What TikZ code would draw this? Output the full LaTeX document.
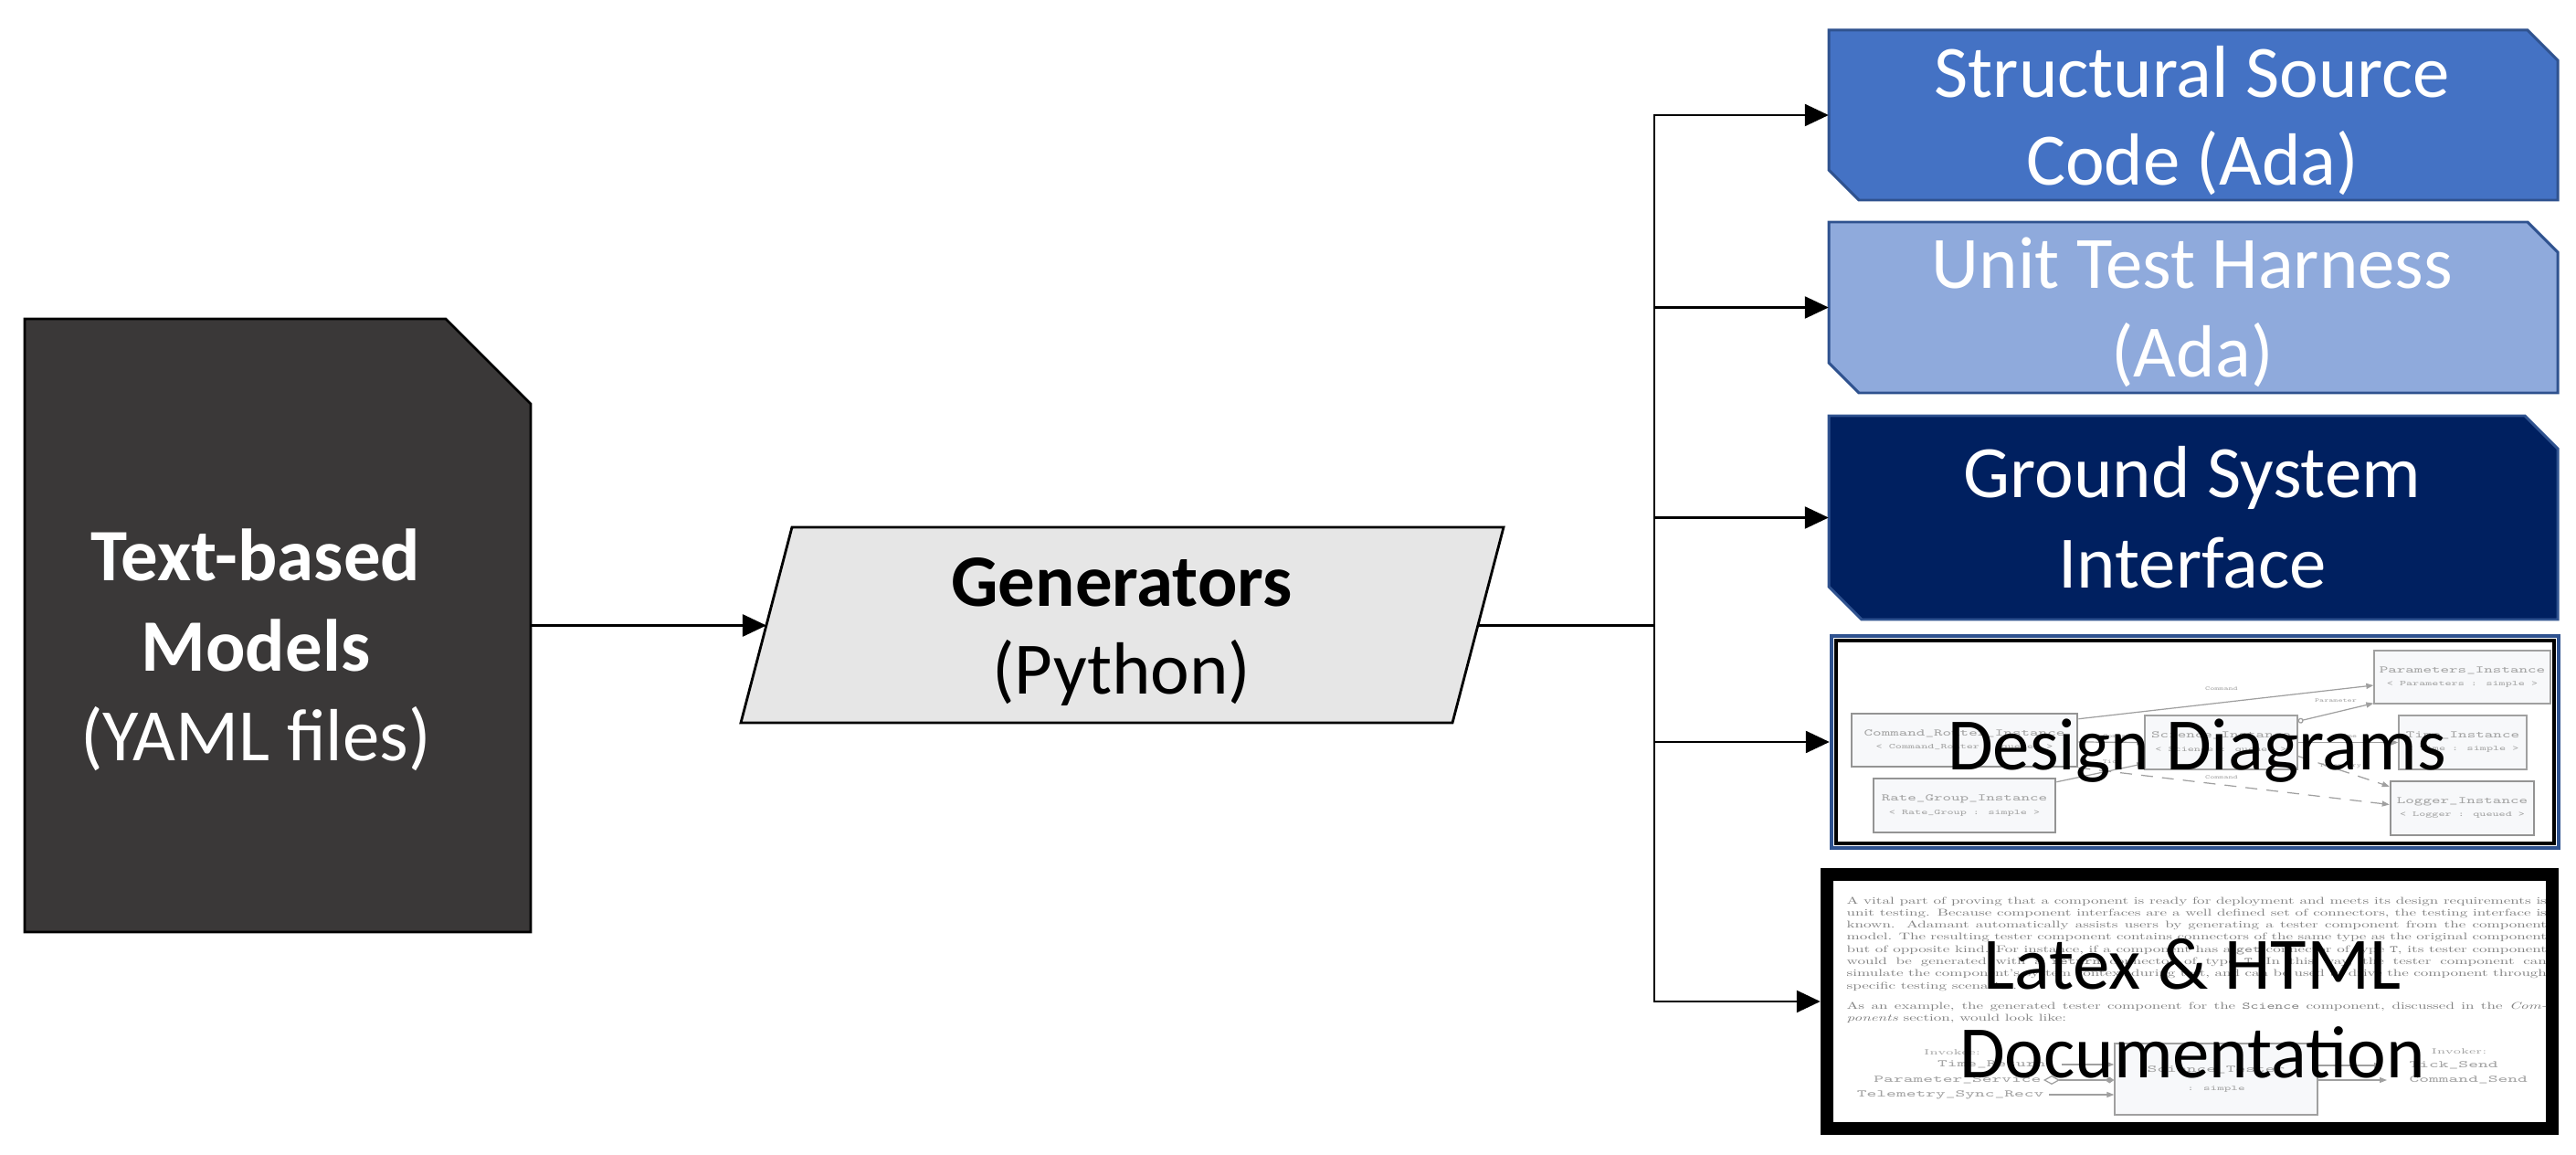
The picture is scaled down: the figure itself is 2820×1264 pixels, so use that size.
\documentclass[tikz,border=0pt]{standalone}
\usepackage{fontspec}
\usepackage{graphicx}
\newfontfamily\calib{Carlito}
\usetikzlibrary{arrows.meta,calc}
\definecolor{boxA}{HTML}{4472C4}
\definecolor{boxB}{HTML}{8FAADC}
\definecolor{boxC}{HTML}{002060}
\definecolor{boxline}{HTML}{2F528F}
\definecolor{srcfill}{HTML}{3A3838}
\definecolor{genfill}{HTML}{E6E6E6}
\definecolor{dline}{HTML}{A0A0A0}
\definecolor{dtext}{HTML}{A3A3A3}
\definecolor{dfill}{HTML}{F7F8FA}
\definecolor{ptext}{HTML}{808080}
\newcommand\xs[2]{\scalebox{#1}[1]{#2}}
\newcommand\bigf{\calib\fontsize{23}{27.6}\selectfont}
\newcommand\snipbox[6]{\path[#6] (#1,#2) -- ({#3-#5},#2) -- (#3,{#2+#5}) -- (#3,#4) -- ({#1+#5},#4) -- (#1,{#4-#5}) -- cycle;}
\newcommand\pline[1]{\makebox[\linewidth][s]{#1}\par}
\tikzset{
  big/.style={font=\bigf, inner sep=0pt, anchor=base},
  bigb/.style={font=\bigf\bfseries, inner sep=0pt, anchor=base},
  conn/.style={line width=0.7pt, -{Triangle[length=0.26cm,width=0.24cm]}},
  hold/.style={inner sep=0pt, outer sep=0pt, draw=none},
  dbox/.style={draw=dline, line width=0.35pt, fill=dfill, inner sep=0pt, align=center, text=dtext, font=\ttfamily\fontsize{3.1}{4}\selectfont},
  dthick/.style={dbox, draw=black!42, line width=0.7pt},
  dedge/.style={draw=dline, line width=0.35pt, -{Triangle[length=0.08cm,width=0.06cm]}},
  ddash/.style={dedge, dash pattern=on 0.13cm off 0.1cm},
  dlab/.style={text=dtext, inner sep=0pt, font=\ttfamily\fontsize{1.7}{2}\selectfont},
  tlab/.style={text=dtext, inner sep=0pt, font=\ttfamily\fontsize{3.13}{4}\selectfont},
  slab/.style={text=dtext, inner sep=0pt, font=\rmfamily\fontsize{2.4}{3}\selectfont}
}
\begin{document}
\begin{tikzpicture}[x=0.01cm,y=-0.01cm]
\useasboundingbox (0,0) rectangle (2820,1264);

% ---------- source (YAML) ----------
\path[fill=srcfill, draw=black, line width=0.8pt] (27,349) -- (488,349) -- (581,442) -- (581,1020) -- (27,1020) -- cycle;
\node[hold, minimum width=5.54cm, minimum height=6.71cm] (src) at (304,684.5) {};
\node[bigb, text=white] (srcA) at (280,636) {Text-based};
\node[bigb, text=white] (srcB) at (280,735) {Models};
\node[big, text=white] (srcC) at (280,833) {(YAML files)};

% ---------- generators ----------
\path[fill=genfill, draw=black, line width=0.8pt] (867,577) -- (1646,577) -- (1590,791) -- (811,791) -- cycle;
\node[hold, minimum width=7.79cm, minimum height=2.14cm] (gen) at (1228.5,684) {};
\coordinate (genW) at (839,684.5);
\coordinate (genE) at (1618,684.5);
\coordinate (j) at (1811,684.5);
\node[bigb] (genA) at (1228,663) {Generators};
\node[big] (genB) at (1228,760) {(Python)};

% ---------- output boxes ----------
\snipbox{2002}{33}{2800}{219}{33}{fill=boxA, draw=boxline, line width=0.85pt}
\node[hold, minimum width=7.98cm, minimum height=1.86cm] (b1) at (2401,126) {};
\node[big, text=white] (b1a) at (2400,107) {Structural Source};
\node[big, text=white] (b1b) at (2400,203) {Code (Ada)};

\snipbox{2002}{243}{2800}{430}{33}{fill=boxB, draw=boxline, line width=0.85pt}
\node[hold, minimum width=7.98cm, minimum height=1.87cm] (b2) at (2401,336.5) {};
\node[big, text=white] (b2a) at (2400,316) {Unit Test Harness};
\node[big, text=white] (b2b) at (2400,413) {(Ada)};

\snipbox{2002}{455}{2800}{678}{36}{fill=boxC, draw=boxline, line width=0.85pt}
\node[hold, minimum width=7.98cm, minimum height=2.23cm] (b3) at (2401,566.5) {};
\node[big, text=white] (b3a) at (2400,545) {Ground System};
\node[big, text=white] (b3b) at (2400,643) {Interface};

% ---------- design diagrams box ----------
\fill[white] (2005,696) rectangle (2801,928);
\draw[boxline, line width=1.3pt] (2005,696) rectangle (2801,928);
\draw[black, line width=1.3pt] (2010,701) rectangle (2796,923);
\node[hold, minimum width=8.0cm, minimum height=2.36cm] (b4) at (2403,812) {};

\node[dbox, minimum width=1.93cm, minimum height=0.58cm] (dPar) at (2695.5,741) {\xs{1.65}{Parameters\_Instance}\\\xs{1.65}{\fontsize{2.3}{4}\selectfont < Parameters : simple >}};
\node[dthick, minimum width=2.47cm, minimum height=0.58cm] (dCR) at (2150.5,810) {\xs{1.65}{Command\_Router\_Instance}\\\xs{1.65}{\fontsize{2.3}{4}\selectfont < Command\_Router : queued >}};
\node[dbox, minimum width=1.67cm, minimum height=0.59cm] (dSci) at (2431.5,812.5) {\xs{1.65}{Science\_Instance}\\\xs{1.65}{\fontsize{2.3}{4}\selectfont < Science : queued >}};
\node[dbox, minimum width=1.40cm, minimum height=0.59cm] (dTime) at (2696,812.5) {\xs{1.65}{Time\_Instance}\\\xs{1.65}{\fontsize{2.3}{4}\selectfont < Time : simple >}};
\node[dthick, minimum width=1.99cm, minimum height=0.59cm] (dRG) at (2150.5,881.5) {\xs{1.65}{Rate\_Group\_Instance}\\\xs{1.65}{\fontsize{2.3}{4}\selectfont < Rate\_Group : simple >}};
\node[dthick, minimum width=1.57cm, minimum height=0.59cm] (dLog) at (2695.5,884.5) {\xs{1.65}{Logger\_Instance}\\\xs{1.65}{\fontsize{2.3}{4}\selectfont < Logger : queued >}};

\draw[dedge] ($(dCR.north east)+(0,7)$) -- ($(dPar.west)+(0,9)$);
\draw[dedge, {Circle[open,length=0.06cm]}-{Triangle[length=0.08cm,width=0.06cm]}] ($(dSci.north east)+(0,7)$) -- ($(dPar.south west)+(0,-1)$);
\draw[dedge] (dSci.east) -- (dTime.west);
\draw[dedge] ($(dCR.east)+(0,2)$) -- (dSci.west);
\draw[dedge] ($(dRG.north east)+(0,5)$) -- ($(dSci.south west)+(0,-7)$);
\draw[ddash] ($(dSci.east)+(0,15)$) -- ($(dLog.north west)+(0,7)$);
\draw[ddash] (dCR.south east) -- ($(dLog.west)+(0,-4)$);
\node[dlab] (eC1) at (2432,754) {\xs{1.6}{Command}};
\node[dlab] (eP) at (2557,767) {\xs{1.6}{Parameter}};
\node[dlab] (eC2) at (2432,851) {\xs{1.6}{Command}};
\node[dlab] (eC3) at (2320,806) {\xs{1.6}{Command}};
\node[dlab] (eT) at (2312,834) {\xs{1.6}{Tick}};
\node[dlab] (eTl) at (2562,838) {\xs{1.6}{Telemetry}};
\node[dlab] (eTi) at (2570,806) {\xs{1.6}{Time}};

\node[big] (b4a) at (2405,842) {Design Diagrams};

% ---------- documentation box ----------
\draw[black, line width=4pt, fill=white] (2000,957) rectangle (2794,1235);
\node[hold, minimum width=8.08cm, minimum height=2.92cm] (b5) at (2397,1096) {};

\node[anchor=base west, inner sep=0pt, text=ptext] (para) at (2021,989) {\scalebox{0.4842}[0.304]{\parbox[t]{450pt}{\fontsize{10}{12.43}\selectfont\parindent=0pt
\pline{A vital part of proving that a component is ready for deployment and meets its design requirements is}
\pline{unit testing. Because component interfaces are a well defined set of connectors, the testing interface is}
\pline{known. Adamant automatically assists users by generating a tester component from the component}
\pline{model. The resulting tester component contains connectors of the same type as the original component}
\pline{but of opposite kind. For instance, if a component has a \texttt{get} connector of type \texttt{T}, its tester component}
\pline{would be generated with a \texttt{return} connector of type \texttt{T}. In this way, the tester component can}
\pline{simulate the component's system context during test, and can be used to drive the component through}
\mbox{specific testing scenarios.}\par
\vspace{8.2pt}
\pline{As an example, the generated tester component for the \texttt{Science} component, discussed in the \emph{Com-}}
\mbox{\emph{ponents} section, would look like:}\par}}};

\node[dbox, minimum width=2.22cm, minimum height=0.78cm, font=\ttfamily\fontsize{3.13}{5.7}\selectfont] (tst) at (2426,1181) {\xs{1.84}{Science\_Tester}\\\xs{1.78}{\fontsize{2.28}{5.7}\selectfont : simple}};
\node[slab] (inv1) at (2137,1152) {\xs{1.5}{Invokee:}};
\node[slab] (inv2) at (2692,1151) {\xs{1.5}{Invoker:}};
\node[tlab, anchor=east] (lt1) at (2240,1165) {\xs{1.84}{Time\_Return}};
\node[tlab, anchor=east] (lt2) at (2235,1182) {\xs{1.84}{Parameter\_Service}};
\node[tlab, anchor=east] (lt3) at (2238,1198) {\xs{1.84}{Telemetry\_Sync\_Recv}};
\node[tlab, anchor=west] (rt1) at (2637,1166) {\xs{1.84}{Tick\_Send}};
\node[tlab, anchor=west] (rt2) at (2637,1182) {\xs{1.84}{Command\_Send}};
\draw[dedge, shorten <=0.17cm] (lt1.east) -- (lt1.east -| tst.west);
\draw[dedge, {Diamond[open,length=0.18cm,width=0.1cm]}-{Diamond[length=0.1cm,width=0.07cm]}, shorten <=0.02cm] (lt2.east) -- (lt2.east -| tst.west);
\draw[dedge, shorten <=0.05cm] (lt3.east) -- (lt3.east -| tst.west);
\draw[dedge, shorten >=0.3cm] (rt1.west -| tst.east) -- (rt1.west);
\draw[dedge, shorten >=0.24cm] (rt2.west -| tst.east) -- (rt2.west);

\node[big] (b5a) at (2400,1082) {Latex \& HTML};
\node[big] (b5b) at (2400,1179) {Documentation};

% ---------- connectors ----------
\draw[conn] (src) -- (genW);
\draw[line width=0.7pt] (genE) -- (j);
\foreach \b in {b1,b2,b3,b4,b5} \draw[conn] (j) |- (\b);
\end{tikzpicture}
\end{document}
